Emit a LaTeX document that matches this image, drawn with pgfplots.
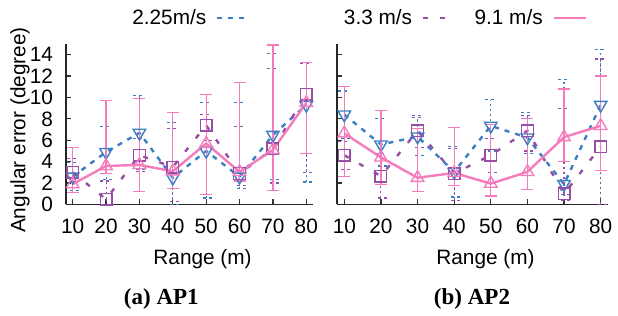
\documentclass[border=0pt]{standalone}
\usepackage{fontspec}
\usepackage{pgfplots}
\pgfplotsset{compat=1.18}
\usepackage{pgfplotstable}
\newfontfamily\arialf{Liberation Sans}
\newfontfamily\capf{Liberation Serif}
\definecolor{cblue}{RGB}{58,127,193}
\definecolor{cpurple}{RGB}{150,78,166}
\definecolor{cpink}{RGB}{244,124,188}

% x y lo hi
\pgfplotstableread{
x y lo hi
10 2.6 1.3 3.9
20 4.9 2.3 7.3
30 6.7 3.3 10.2
40 2.5 0.0 7.7
50 5.0 0.6 9.5
60 2.6 1.5 9.5
70 6.5 2.3 14.1
80 9.3 2.1 13.2
}\aBlue
\pgfplotstableread{
x y lo hi
10 3.0 1.6 4.3
20 0.5 0.0 2.2
30 4.6 3.1 6.2
40 3.5 0.3 7.1
50 7.4 6.0 8.4
60 2.9 1.8 7.3
70 5.2 2.0 12.7
80 10.3 3.0 13.2
}\aPurple
\pgfplotstableread{
x y lo hi
10 1.9 1.1 5.3
20 3.6 2.9 9.7
30 3.7 1.2 9.9
40 3.1 1.5 8.6
50 5.7 0.95 10.3
60 3.05 2.2 11.4
70 5.1 1.3 14.9
80 9.5 4.8 13.3
}\aPink
\pgfplotstableread{
x y lo hi
10 8.4 6.2 10.6
20 5.6 3.6 8.0
30 6.35 4.6 8.1
40 3.05 0.7 5.4
50 7.35 5.0 9.8
60 6.25 4.8 8.6
70 1.9 0.9 11.7
80 9.3 7.0 14.5
}\bBlue
\pgfplotstableread{
x y lo hi
10 4.6 3.3 5.9
20 2.65 0.6 4.8
30 6.9 5.3 8.3
40 2.9 0.4 5.2
50 4.6 3.0 6.2
60 6.9 5.0 8.3
70 1.0 0.4 9.0
80 5.4 0.0 13.6
}\bPurple
\pgfplotstableread{
x y lo hi
10 6.65 2.6 11.0
20 4.4 1.85 8.8
30 2.5 1.25 7.1
40 2.95 1.8 7.2
50 1.95 0.8 7.5
60 3.05 1.4 8.05
70 6.3 4.0 10.8
80 7.35 3.2 12.0
}\bPink

\pgfplotsset{
  myaxis/.style={
    scale only axis, height=80.25pt,
    xmin=8, xmax=82, ymin=0, ymax=15,
    xtick={10,20,...,80}, ytick={0,2,...,14},
    axis x line=bottom, axis y line=left,
    axis line style={-, line width=0.7pt, black!85},
    tick align=inside, major tick length=2.5pt,
    tick style={line width=0.6pt, black!80},
    font=\arialf\fontsize{10.4}{12}\selectfont,
    ticklabel style={font=\arialf\fontsize{10.4}{12}\selectfont},
    /pgf/number format/assume math mode=true,
    xticklabel style={yshift=-3.5pt},
    yticklabel style={xshift=-3pt},
    xlabel={Range (m)},
    legend style={draw=none, fill=none, inner sep=0pt,
      font=\arialf\fontsize{10.4}{12}\selectfont,
      /tikz/every even column/.append style={column sep=7pt},
      /tikz/every odd column/.append style={column sep=3pt}},
    legend plot pos=right,
    legend image code/.code={\draw[##1] (0pt,0pt) -- (16pt,0pt);},
  },
  errs/.style={
    error bars/y dir=both, error bars/y explicit,
  },
  sblue/.style={cblue, line width=1.2pt, dash pattern=on 2.5pt off 3pt,
    mark=triangle, mark options={rotate=180, solid, line width=0.7pt, mark size=3.6pt},
    errs,
    error bars/error bar style={line width=0.55pt, dash pattern=on 0.9pt off 1.6pt},
    error bars/error mark options={rotate=90, mark size=3pt, line width=0.6pt, dash pattern=on 1.5pt off 1.5pt}},
  spurple/.style={cpurple, line width=1.2pt, dash pattern=on 2.5pt off 6pt,
    mark=square, mark options={solid, line width=0.7pt, mark size=2.9pt},
    errs,
    error bars/error bar style={line width=0.55pt, dash pattern=on 0.9pt off 1.6pt},
    error bars/error mark options={rotate=90, mark size=3pt, line width=0.6pt, dash pattern=on 1.5pt off 1.5pt}},
  spink/.style={cpink, line width=1.2pt, solid,
    mark=triangle, mark options={solid, line width=0.7pt, mark size=3.6pt},
    errs,
    error bars/error bar style={line width=0.6pt, solid},
    error bars/error mark options={rotate=90, mark size=3pt, line width=0.6pt, solid}},
}

\begin{document}
\begin{tikzpicture}
\useasboundingbox (0,0) rectangle (309pt,158pt);
\begin{axis}[myaxis, width=123.5pt, at={(33pt,55.75pt)}, anchor=south west,
  ylabel={Angular error (degree)},
  ylabel style={at={(axis description cs:-0.186,0.464)}, anchor=center},
  xlabel style={at={(axis description cs:0.553,-0.343)}, anchor=center},
  legend style={at={(axis description cs:0.5,1.162)}, anchor=center},
  legend columns=1]
\addplot+[sblue] table[x=x, y=y, y error plus expr=\thisrow{hi}-\thisrow{y}, y error minus expr=\thisrow{y}-\thisrow{lo}] {\aBlue};
\addlegendentry{2.25m/s}
\addplot+[spurple, forget plot] table[x=x, y=y, y error plus expr=\thisrow{hi}-\thisrow{y}, y error minus expr=\thisrow{y}-\thisrow{lo}] {\aPurple};
\addplot+[spink, forget plot] table[x=x, y=y, y error plus expr=\thisrow{hi}-\thisrow{y}, y error minus expr=\thisrow{y}-\thisrow{lo}] {\aPink};
\end{axis}
\begin{axis}[myaxis, width=135.5pt, at={(168.5pt,55.75pt)}, anchor=south west,
  yticklabels={},
  xlabel style={at={(axis description cs:0.548,-0.343)}, anchor=center},
  legend style={at={(axis description cs:0.467,1.162)}, anchor=center},
  legend columns=2]
\addplot+[sblue, forget plot] table[x=x, y=y, y error plus expr=\thisrow{hi}-\thisrow{y}, y error minus expr=\thisrow{y}-\thisrow{lo}] {\bBlue};
\addplot+[spurple] table[x=x, y=y, y error plus expr=\thisrow{hi}-\thisrow{y}, y error minus expr=\thisrow{y}-\thisrow{lo}] {\bPurple};
\addlegendentry{3.3 m/s}
\addplot+[spink] table[x=x, y=y, y error plus expr=\thisrow{hi}-\thisrow{y}, y error minus expr=\thisrow{y}-\thisrow{lo}] {\bPink};
\addlegendentry{9.1 m/s}
\end{axis}
\node[font=\capf\fontsize{11.5}{13}\selectfont\bfseries] at (80.65pt,8.5pt) {(a) AP1};
\node[font=\capf\fontsize{11.5}{13}\selectfont\bfseries] at (236pt,8.5pt) {(b) AP2};
\end{tikzpicture}
\end{document}
